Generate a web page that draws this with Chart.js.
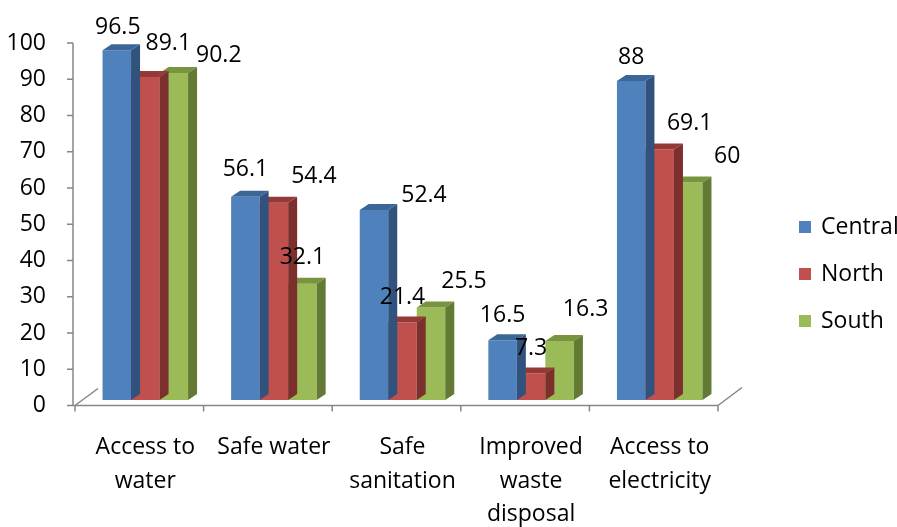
<!DOCTYPE html>
<html>
<head>
<meta charset="utf-8">
<script src="https://cdn.jsdelivr.net/npm/chart.js@4.4.1/dist/chart.umd.min.js"></script>
<style>
  html, body { margin: 0; padding: 0; background: #fff; }
</style>
</head>
<body>
<canvas id="chart" width="897" height="527"></canvas>
<script>
// Chart data
const categories = [['Access to', 'water'], 'Safe water', ['Safe', 'sanitation'], ['Improved', 'waste', 'disposal'], ['Access to', 'electricity']];
const seriesNames = ['Central', 'North', 'South'];
const central = [96.5, 56.1, 52.4, 16.5, 88];
const north = [89.1, 54.4, 21.4, 7.3, 69.1];
const south = [90.2, 32.1, 25.5, 16.3, 60];

// Styling: face colours and per-label nudges (Excel moves labels around to avoid overlaps)
const faces = [
  { front: '#4F81BD', top: '#3D6698', side: '#31527D' },
  { front: '#C0504D', top: '#953937', side: '#7C2F2D' },
  { front: '#9BBB59', top: '#78943F', side: '#627A33' }
];
const labelNudge = [
  [[1, 2], [0, -2], [50, 10], [0, 0], [0, 1]],
  [[23, -9], [40, -1], [0, 0], [0, 0], [30, -1]],
  [[45, 7], [0, -1], [33, -1], [26, -6], [39, -1]]
];
const DX = 9, DY = -6;          // bar depth
const AXIS_SHIFT = 5.5;         // front floor edge sits a little below the bar base
const FONT = '"Open Sans", sans-serif';
const FSIZE = 23;
const GREY = '#868686';

const bars3d = {
  id: 'bars3d',
  afterDatasetDraw(chart, args) {
    const ctx = chart.ctx;
    const f = faces[args.index];
    chart.getDatasetMeta(args.index).data.forEach(bar => {
      const { x, y, base, width } = bar.getProps(['x', 'y', 'base', 'width'], true);
      const l = x - width / 2, r = x + width / 2;
      ctx.save();
      ctx.fillStyle = f.top;
      ctx.beginPath();
      ctx.moveTo(l, y); ctx.lineTo(l + DX, y + DY); ctx.lineTo(r + DX, y + DY); ctx.lineTo(r, y);
      ctx.closePath(); ctx.fill();
      ctx.fillStyle = f.side;
      ctx.beginPath();
      ctx.moveTo(r, y); ctx.lineTo(r + DX, y + DY); ctx.lineTo(r + DX, base + DY); ctx.lineTo(r, base);
      ctx.closePath(); ctx.fill();
      ctx.restore();
    });
  },
  afterDatasetsDraw(chart) {
    const ctx = chart.ctx;
    ctx.save();
    ctx.font = FSIZE + 'px ' + FONT;
    ctx.fillStyle = '#000';
    ctx.textAlign = 'center';
    ctx.textBaseline = 'middle';
    chart.data.datasets.forEach((ds, i) => {
      chart.getDatasetMeta(i).data.forEach((bar, j) => {
        const n = labelNudge[i][j];
        ctx.fillText(String(ds.data[j]), bar.x + n[0], bar.y - 25 + n[1]);
      });
    });
    ctx.restore();
  }
};

// 3D-ish floor and axes, drawn behind bars
const floorAxes = {
  id: 'floorAxes',
  beforeDatasetsDraw(chart) {
    const ctx = chart.ctx;
    const ys = chart.scales.y, xs = chart.scales.x;
    const catW = (xs.right - xs.left) / categories.length;
    const x0 = xs.left - 6;
    const x1 = x0 + catW * categories.length;
    const yb = ys.getPixelForValue(0) + AXIS_SHIFT;
    const yt = ys.getPixelForValue(100) + AXIS_SHIFT;
    const ax = 73;
    ctx.save();
    ctx.strokeStyle = GREY;
    ctx.lineWidth = 1.5;
    ctx.beginPath();
    // value axis
    ctx.moveTo(ax, yt); ctx.lineTo(ax, yb);
    for (let v = 0; v <= 100; v += 10) {
      const py = ys.getPixelForValue(v) + AXIS_SHIFT;
      ctx.moveTo(ax - 6, py); ctx.lineTo(ax, py);
    }
    // category axis (front floor edge)
    ctx.moveTo(ax, yb); ctx.lineTo(x1, yb);
    for (let k = 0; k <= categories.length; k++) {
      const px = x0 + k * catW;
      ctx.moveTo(px, yb); ctx.lineTo(px, yb + 6);
    }
    // floor side edges
    ctx.moveTo(x0, yb); ctx.lineTo(x0 + 23, yb - 17);
    ctx.moveTo(x1, yb); ctx.lineTo(x1 + 24, yb - 18);
    ctx.stroke();
    ctx.restore();
  }
};

const sideLegend = {
  id: 'sideLegend',
  afterDraw(chart) {
    const ctx = chart.ctx;
    ctx.save();
    ctx.font = FSIZE + 'px ' + FONT;
    ctx.textBaseline = 'middle';
    seriesNames.forEach((name, i) => {
      const cy = 227 + i * 47;
      ctx.fillStyle = faces[i].front;
      ctx.fillRect(799, cy - 6, 12, 12);
      ctx.fillStyle = '#000';
      ctx.fillText(name, 821, cy);
    });
    ctx.restore();
  }
};

new Chart(document.getElementById('chart').getContext('2d'), {
  type: 'bar',
  data: {
    labels: categories,
    datasets: [
      { label: seriesNames[0], data: central, backgroundColor: faces[0].front },
      { label: seriesNames[1], data: north, backgroundColor: faces[1].front },
      { label: seriesNames[2], data: south, backgroundColor: faces[2].front }
    ]
  },
  options: {
    responsive: false,
    animation: false,
    devicePixelRatio: 1,
    layout: { padding: { top: 37.5, right: 173, left: 0, bottom: 0 } },
    datasets: { bar: { categoryPercentage: 0.665, barPercentage: 1, borderWidth: 0 } },
    scales: {
      x: {
        grid: { display: false, drawTicks: false },
        border: { display: false },
        ticks: {
          color: '#000',
          font: { family: FONT, size: FSIZE, lineHeight: 1.46 },
          padding: 31,
          maxRotation: 0,
          autoSkip: false
        },
        afterFit(s) { s.height = 127; s.paddingLeft = 0; s.paddingRight = 0; }
      },
      y: {
        min: 0,
        max: 100,
        grid: { display: false, drawTicks: false },
        border: { display: false },
        ticks: {
          stepSize: 10,
          color: '#000',
          font: { family: FONT, size: FSIZE },
          padding: 35,
          labelOffset: AXIS_SHIFT
        },
        // fixed width, and no extra top/bottom padding so the plot keeps its height
        afterFit(s) { s.width = 81; s.paddingTop = 0; s.paddingBottom = 0; }
      }
    },
    plugins: {
      legend: { display: false },
      tooltip: { enabled: false }
    }
  },
  plugins: [floorAxes, bars3d, sideLegend]
});
</script>
</body>
</html>
